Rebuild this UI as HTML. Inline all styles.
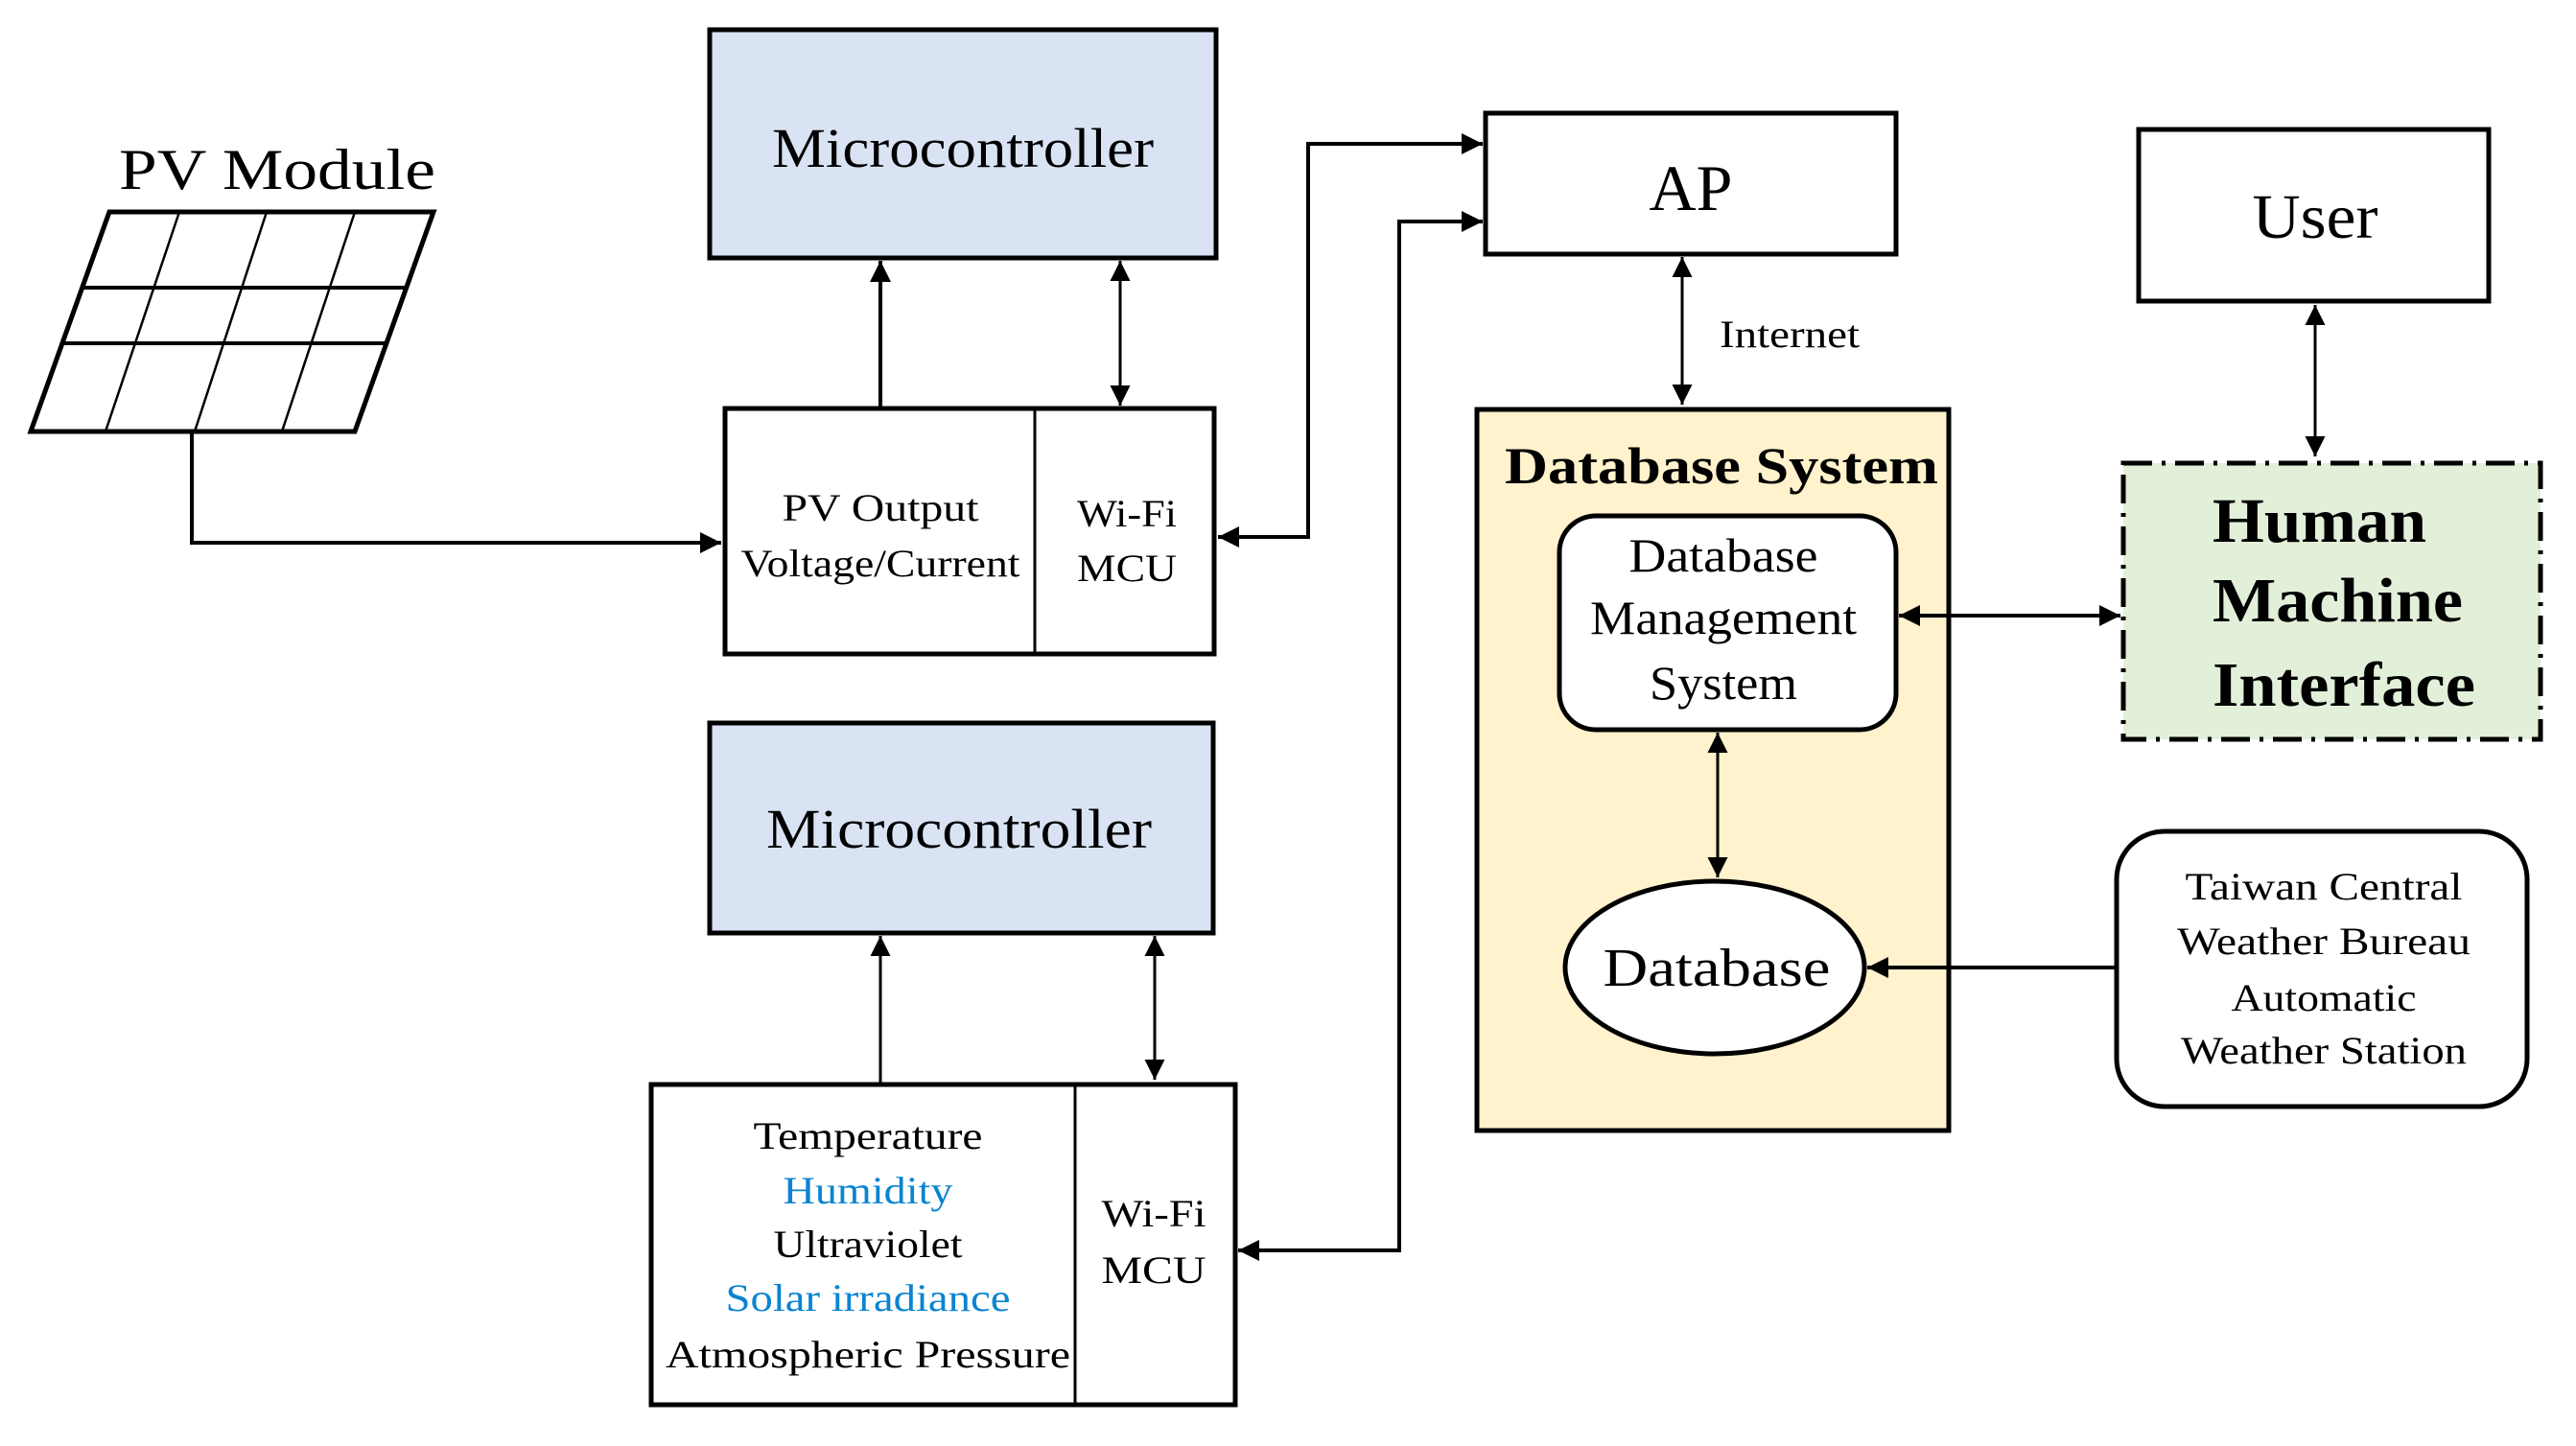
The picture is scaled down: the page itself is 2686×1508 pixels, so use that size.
<!DOCTYPE html>
<html><head><meta charset="utf-8"><style>html,body{margin:0;padding:0;background:#fff}svg{display:block}text{font-family:"Liberation Serif","DejaVu Serif",serif;fill:#000}</style></head>
<body>
<svg width="2686" height="1508" viewBox="0 0 2686 1508" xmlns="http://www.w3.org/2000/svg">
<defs>
<marker id="a" viewBox="0 0 10 10" refX="10" refY="5" markerWidth="6.5" markerHeight="5.5" orient="auto-start-reverse" markerUnits="strokeWidth"><path d="M0,0 L10,5 L0,10 z" fill="#000"/></marker>
<marker id="b" viewBox="0 0 10 10" refX="10" refY="5" markerWidth="9" markerHeight="7" orient="auto-start-reverse" markerUnits="strokeWidth"><path d="M0,0 L10,5 L0,10 z" fill="#000"/></marker>
</defs>
<g stroke="#000" fill="none">
<!-- PV panel -->
<polygon points="114,221 452,221 370,450 32,450" stroke-width="5"/>
<line x1="86" y1="300" x2="424" y2="300" stroke-width="4"/>
<line x1="65" y1="358" x2="403" y2="358" stroke-width="4"/>
<line x1="187" y1="221" x2="110" y2="450" stroke-width="2.5"/>
<line x1="278" y1="221" x2="203" y2="450" stroke-width="2.5"/>
<line x1="370" y1="221" x2="294" y2="450" stroke-width="2.5"/>
<polyline points="200,450 200,566 752,566" stroke-width="4" marker-end="url(#a)"/>
<!-- top micro -->
<rect x="740" y="31" width="528" height="238" fill="#dae3f3" stroke-width="5"/>
<rect x="756" y="426" width="510" height="256" fill="#fff" stroke-width="5"/>
<line x1="1079" y1="426" x2="1079" y2="682" stroke-width="3"/>
<line x1="918" y1="426" x2="918" y2="272" stroke-width="4" marker-end="url(#a)"/>
<line x1="1168" y1="423" x2="1168" y2="272" stroke-width="3" marker-start="url(#b)" marker-end="url(#b)"/>
<!-- bottom micro -->
<rect x="740" y="754" width="525" height="219" fill="#dae3f3" stroke-width="5"/>
<rect x="679" y="1131" width="609" height="334" fill="#fff" stroke-width="5"/>
<line x1="1121" y1="1131" x2="1121" y2="1465" stroke-width="3"/>
<line x1="918" y1="1129" x2="918" y2="976" stroke-width="3" marker-end="url(#b)"/>
<line x1="1204" y1="1126" x2="1204" y2="976" stroke-width="3" marker-start="url(#b)" marker-end="url(#b)"/>
<!-- links to AP -->
<polyline points="1270,560 1364,560 1364,150 1546,150" stroke-width="4" marker-start="url(#a)" marker-end="url(#a)"/>
<polyline points="1291,1304 1459,1304 1459,231 1546,231" stroke-width="4" marker-start="url(#a)" marker-end="url(#a)"/>
<rect x="1549" y="118" width="428" height="147" fill="#fff" stroke-width="5"/>
<line x1="1754" y1="268" x2="1754" y2="422" stroke-width="3" marker-start="url(#b)" marker-end="url(#b)"/>
<!-- user -->
<rect x="2230" y="135" width="365" height="179" fill="#fff" stroke-width="5"/>
<line x1="2414" y1="318" x2="2414" y2="476" stroke-width="3" marker-start="url(#b)" marker-end="url(#b)"/>
<!-- DB system -->
<rect x="1540" y="427" width="492" height="752" fill="#fff2cc" stroke-width="5"/>
<rect x="1626" y="538" width="351" height="223" rx="38" fill="#fff" stroke-width="5"/>
<line x1="1791" y1="764" x2="1791" y2="915" stroke-width="3" marker-start="url(#b)" marker-end="url(#b)"/>
<ellipse cx="1788" cy="1009" rx="156" ry="90" fill="#fff" stroke-width="5"/>
<!-- HMI -->
<rect x="2214" y="483" width="435" height="288" fill="#e2efd9" stroke-width="5" stroke-dasharray="30,10,4,10"/>
<line x1="1980" y1="642" x2="2211" y2="642" stroke-width="4" marker-start="url(#a)" marker-end="url(#a)"/>
<!-- Taiwan -->
<rect x="2207" y="867" width="428" height="287" rx="50" fill="#fff" stroke-width="5"/>
<line x1="2205" y1="1009" x2="1947" y2="1009" stroke-width="4" marker-end="url(#a)"/>
</g>
<g text-anchor="middle">
<text x="289" y="197" font-size="60" textLength="330" lengthAdjust="spacingAndGlyphs">PV Module</text>
<text x="1004" y="174" font-size="58" textLength="398" lengthAdjust="spacingAndGlyphs">Microcontroller</text>
<text x="918" y="543" font-size="40" textLength="205" lengthAdjust="spacingAndGlyphs">PV Output</text>
<text x="918" y="601" font-size="40" textLength="291" lengthAdjust="spacingAndGlyphs">Voltage/Current</text>
<text x="1175" y="549" font-size="40" textLength="104" lengthAdjust="spacingAndGlyphs">Wi-Fi</text>
<text x="1175" y="606" font-size="40" textLength="104" lengthAdjust="spacingAndGlyphs">MCU</text>
<text x="1000" y="884" font-size="58" textLength="402" lengthAdjust="spacingAndGlyphs">Microcontroller</text>
<text x="905" y="1198" font-size="40" textLength="239" lengthAdjust="spacingAndGlyphs">Temperature</text>
<text x="905" y="1255" font-size="40" textLength="177" lengthAdjust="spacingAndGlyphs" style="fill:#0a84d0">Humidity</text>
<text x="905" y="1311" font-size="40" textLength="197" lengthAdjust="spacingAndGlyphs">Ultraviolet</text>
<text x="905" y="1367" font-size="40" textLength="297" lengthAdjust="spacingAndGlyphs" style="fill:#0a84d0">Solar irradiance</text>
<text x="905" y="1426" font-size="40" textLength="422" lengthAdjust="spacingAndGlyphs">Atmospheric Pressure</text>
<text x="1203" y="1279" font-size="40" textLength="109" lengthAdjust="spacingAndGlyphs">Wi-Fi</text>
<text x="1203" y="1338" font-size="40" textLength="109" lengthAdjust="spacingAndGlyphs">MCU</text>
<text x="1763" y="219" font-size="68" textLength="87" lengthAdjust="spacingAndGlyphs">AP</text>
<text x="1866" y="362" font-size="40" textLength="146" lengthAdjust="spacingAndGlyphs">Internet</text>
<text x="2414" y="248" font-size="66" textLength="131" lengthAdjust="spacingAndGlyphs">User</text>
<text x="1795" y="504" font-size="54" font-weight="bold" textLength="452" lengthAdjust="spacingAndGlyphs">Database System</text>
<text x="1797" y="596" font-size="50" textLength="197" lengthAdjust="spacingAndGlyphs">Database</text>
<text x="1797" y="661" font-size="50" textLength="278" lengthAdjust="spacingAndGlyphs">Management</text>
<text x="1797" y="729" font-size="50" textLength="154" lengthAdjust="spacingAndGlyphs">System</text>
<text x="1790" y="1028" font-size="56" textLength="237" lengthAdjust="spacingAndGlyphs">Database</text>
<text x="2423" y="938" font-size="40" textLength="289" lengthAdjust="spacingAndGlyphs">Taiwan Central</text>
<text x="2423" y="995" font-size="40" textLength="306" lengthAdjust="spacingAndGlyphs">Weather Bureau</text>
<text x="2423" y="1054" font-size="40" textLength="193" lengthAdjust="spacingAndGlyphs">Automatic</text>
<text x="2423" y="1109" font-size="40" textLength="298" lengthAdjust="spacingAndGlyphs">Weather Station</text>
</g>
<g font-weight="bold" font-size="66">
<text x="2307" y="565" textLength="223" lengthAdjust="spacingAndGlyphs">Human</text>
<text x="2307" y="648" textLength="261" lengthAdjust="spacingAndGlyphs">Machine</text>
<text x="2307" y="736" textLength="274" lengthAdjust="spacingAndGlyphs">Interface</text>
</g>
</svg>
</body></html>
